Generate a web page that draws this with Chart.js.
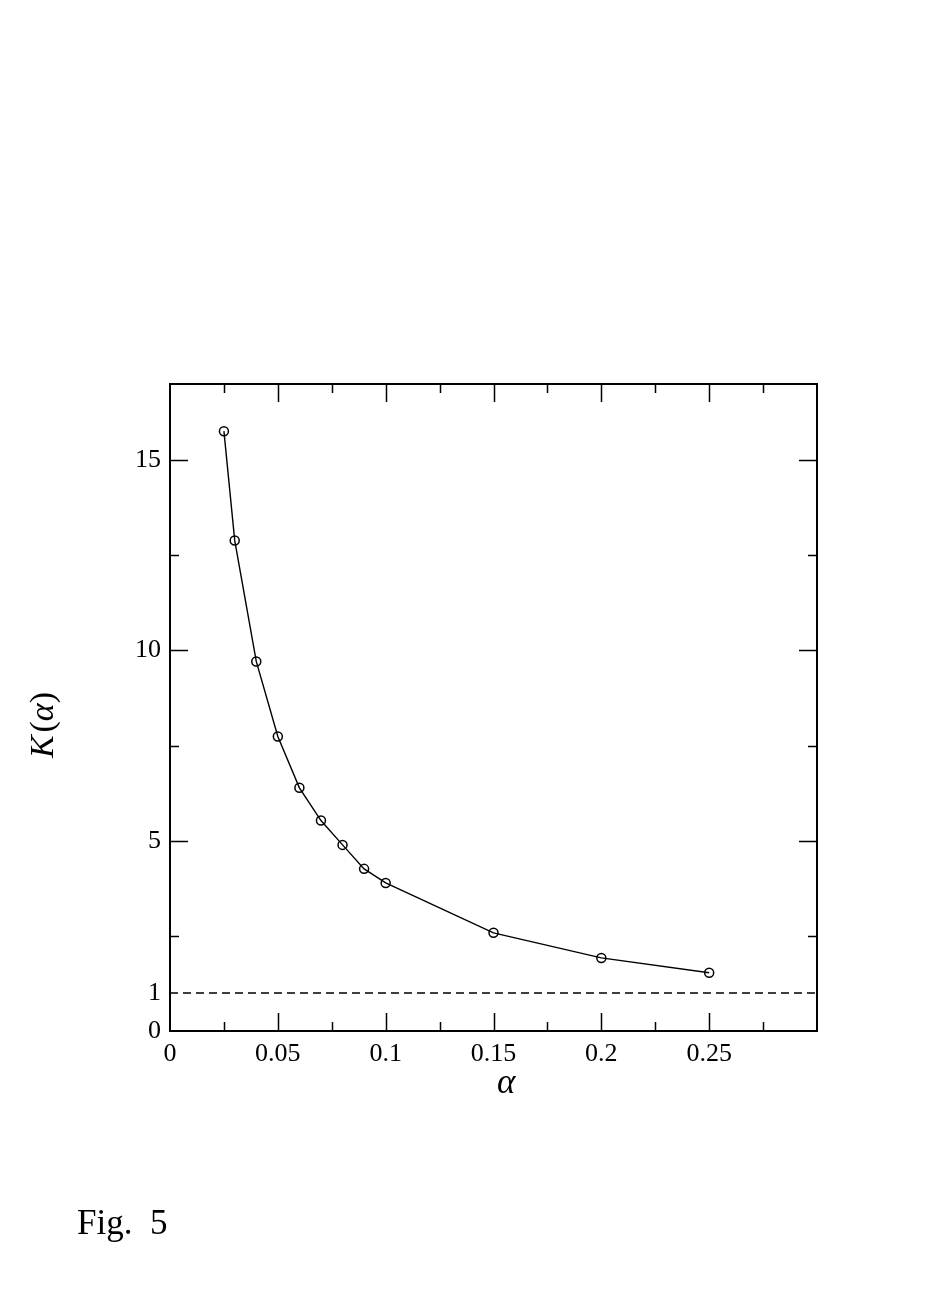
<!DOCTYPE html>
<html>
<head>
<meta charset="utf-8">
<script src="https://cdn.jsdelivr.net/npm/chart.js@4/dist/chart.umd.min.js"></script>
<style>
  body { margin: 0; background: #fff; }
  .wrap { position: absolute; left: 0; top: 0; width: 926px; height: 1309px; }
  .lbl { position: absolute; font-family: "Liberation Serif", serif; color: #000; white-space: nowrap; }
  .it { font-style: italic; }
</style>
</head>
<body>
<div class="wrap"><canvas id="chart"></canvas></div>
<div class="lbl it" id="xlab" style="left:497px; top:1062px; font-size:35px;">α</div>
<div class="lbl" id="ylab" style="left:42px; top:725px; font-size:34px; transform: translate(-50%,-50%) rotate(-90deg);"><span class="it">K</span>&#8202;(<span class="it">α</span>)</div>
<div class="lbl" style="left:77px; top:1203px; font-size:35px;">Fig.&nbsp; 5</div>
<script>
// values
const alpha = [0.025, 0.03, 0.04, 0.05, 0.06, 0.07, 0.08, 0.09, 0.1, 0.15, 0.2, 0.25];
const kValues = [15.76, 12.89, 9.71, 7.74, 6.39, 5.53, 4.89, 4.26, 3.89, 2.58, 1.92, 1.53];
const refLevel = 1;

const xLabelTicks = [0, 0.05, 0.1, 0.15, 0.2, 0.25];
const yLabelTicks = [0, 1, 5, 10, 15];
const xMajor = [0.05, 0.1, 0.15, 0.2, 0.25];
const xMinor = [0.025, 0.075, 0.125, 0.175, 0.225, 0.275];
const yMajor = [5, 10, 15];
const yMinor = [2.5, 7.5, 12.5];

const points = alpha.map((a, i) => ({ x: a, y: kValues[i] }));

// frame + inward tick marks on all four sides
const framePlugin = {
  id: 'frame',
  afterDatasetsDraw(chart) {
    const { ctx, chartArea: a, scales } = chart;
    ctx.save();
    ctx.strokeStyle = '#000';
    ctx.lineWidth = 1.5;
    ctx.beginPath();
    xMajor.concat(xMinor).forEach(v => {
      const len = xMajor.includes(v) ? 18 : 9;
      const px = Math.round(scales.x.getPixelForValue(v)) + 0.5;
      ctx.moveTo(px, a.bottom); ctx.lineTo(px, a.bottom - len);
      ctx.moveTo(px, a.top); ctx.lineTo(px, a.top + len);
    });
    yMajor.concat(yMinor).forEach(v => {
      const len = yMajor.includes(v) ? 18 : 9;
      const py = Math.round(scales.y.getPixelForValue(v)) + 0.5;
      ctx.moveTo(a.left, py); ctx.lineTo(a.left + len, py);
      ctx.moveTo(a.right, py); ctx.lineTo(a.right - len, py);
    });
    ctx.stroke();
    ctx.lineWidth = 2;
    ctx.strokeRect(a.left, a.top, a.right - a.left, a.bottom - a.top);
    ctx.restore();
  }
};

new Chart(document.getElementById('chart'), {
  type: 'scatter',
  data: {
    datasets: [
      {
        data: points,
        showLine: true,
        borderColor: '#000',
        borderWidth: 1.4,
        pointRadius: 4.5,
        pointBorderWidth: 1.5,
        pointBorderColor: '#000',
        pointBackgroundColor: 'rgba(0,0,0,0)',
        tension: 0
      },
      {
        data: [{ x: 0, y: refLevel }, { x: 0.3, y: refLevel }],
        showLine: true,
        borderColor: '#000',
        borderWidth: 1.4,
        borderDash: [8, 5],
        pointRadius: 0
      }
    ]
  },
  options: {
    responsive: true,
    maintainAspectRatio: false,
    animation: false,
    layout: { padding: { left: 0, top: 384, right: 109, bottom: 198 } },
    plugins: { legend: { display: false }, tooltip: { enabled: false } },
    scales: {
      x: {
        type: 'linear', min: 0, max: 0.3,
        grid: { display: false },
        border: { display: false },
        afterBuildTicks: s => { s.ticks = xLabelTicks.map(v => ({ value: v })); },
        afterFit: s => { s.height = 80; },
        ticks: {
          color: '#000', padding: 0,
          font: { family: 'Liberation Serif', size: 26 },
          callback: v => String(v)
        }
      },
      y: {
        type: 'linear', min: 0, max: 17,
        grid: { display: false },
        border: { display: false },
        afterBuildTicks: s => { s.ticks = yLabelTicks.map(v => ({ value: v })); },
        afterFit: s => { s.width = 170; },
        ticks: {
          color: '#000', padding: 1,
          font: { family: 'Liberation Serif', size: 26 },
          callback: v => String(v)
        }
      }
    }
  },
  plugins: [framePlugin]
});
</script>
</body>
</html>
